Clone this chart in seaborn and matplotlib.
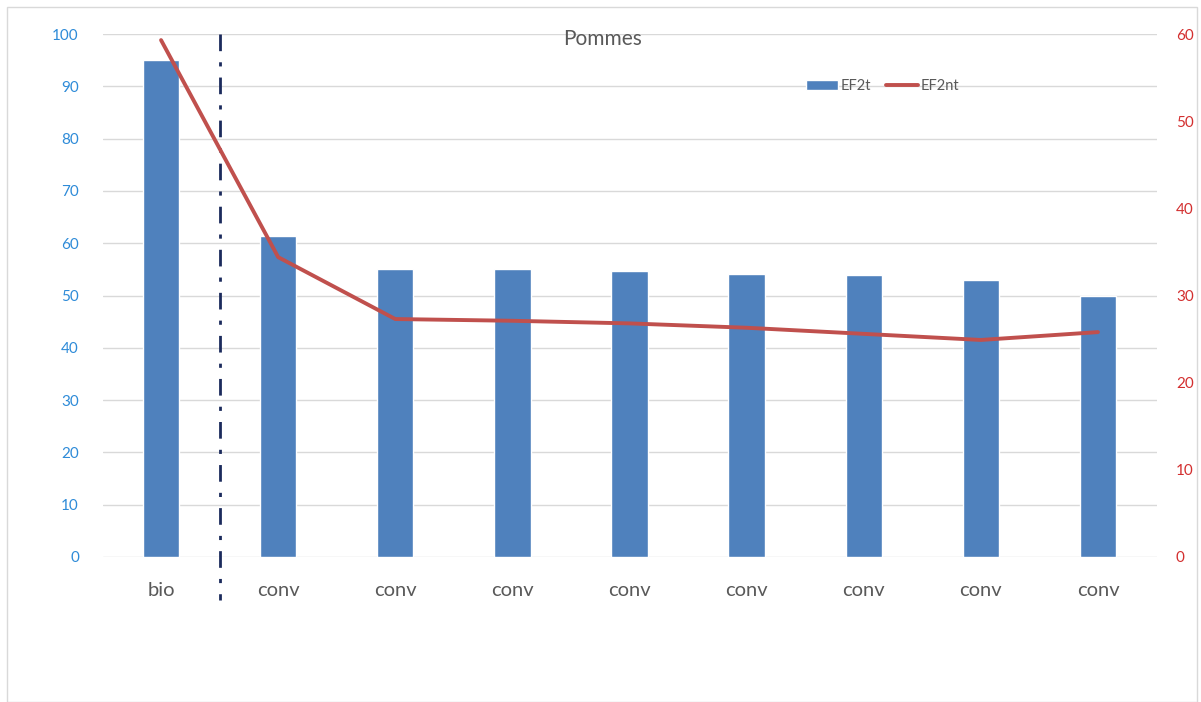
import matplotlib
matplotlib.use("Agg")
import matplotlib.pyplot as plt
import matplotlib.transforms as mtransforms
from matplotlib.patches import Rectangle
import numpy as np
import pandas as pd
import seaborn as sns

# data
categories = ["bio", "conv", "conv", "conv", "conv", "conv", "conv", "conv", "conv"]
ef2t = [95, 61.4, 55.1, 55.1, 54.7, 54.1, 53.9, 53.0, 49.9]
ef2nt = [59.3, 34.4, 27.3, 27.1, 26.8, 26.3, 25.6, 24.9, 25.8]
left_ticks = list(range(0, 101, 10))
right_ticks = list(range(0, 61, 10))

sns.set_theme(style="white")
plt.rcParams["font.family"] = ["Lato", "DejaVu Sans"]

pos = np.arange(len(categories))
df = pd.DataFrame({"pos": pos, "EF2t": ef2t, "EF2nt": ef2nt})

fig = plt.figure(figsize=(12.01, 7.02), dpi=100)
ax = fig.add_axes([102.5 / 1201, 145 / 702, 1054 / 1201, 523 / 702])

# light frame around the chart like the excel export
fig.patches.append(Rectangle((7 / 1201, 0), 1190 / 1201, 695 / 702, transform=fig.transFigure,
                             fill=False, edgecolor="#D9D9D9", linewidth=1))

sns.barplot(data=df, x="pos", y="EF2t", color="#4F81BD", width=0.31, saturation=1,
            ax=ax, label="EF2t")
if ax.get_legend() is not None:
    ax.get_legend().remove()
ax.set_xlim(-0.5, len(categories) - 0.5)
ax.set_ylim(0, 100)
ax.set_yticks(left_ticks)
ax.set_xticks(pos)
ax.set_xticklabels(categories, fontsize=14.5, color="#595959")
ax.tick_params(axis="y", colors="#2E8BD8", labelsize=11, length=0, pad=17)
ax.tick_params(axis="x", length=0, pad=18)
ax.set_xlabel("")
ax.set_ylabel("")
ax.yaxis.grid(True, color="#D9D9D9", linewidth=1)
ax.set_axisbelow(True)
for s in ax.spines.values():
    s.set_visible(False)

ax2 = ax.twinx()
sns.lineplot(data=df, x="pos", y="EF2nt", color="#C0504D", linewidth=2.8, ax=ax2,
             label="EF2nt", legend=False)
ax2.set_ylim(0, 60)
ax2.set_yticks(right_ticks)
ax2.tick_params(axis="y", colors="#D32F2F", labelsize=11, length=0, pad=14)
ax2.set_ylabel("")
for s in ax2.spines.values():
    s.set_visible(False)

# separator between bio and conv
trans = mtransforms.blended_transform_factory(ax.transData, ax.transAxes)
ax.plot([0.5, 0.5], [1.0, -0.082], transform=trans, color="#1B2A5C", linewidth=2,
        linestyle=(0, (6, 4, 1.5, 4)), clip_on=False, zorder=5)

fig.text(603 / 1201, 1 - 39 / 702, "Pommes", ha="center", va="center", fontsize=15,
         color="#595959")

h1, l1 = ax.get_legend_handles_labels()
h2, l2 = ax2.get_legend_handles_labels()
ax2.legend(h1 + h2, l1 + l2, loc="center", bbox_to_anchor=(0.74, 0.90), ncol=2,
           frameon=False, fontsize=10.5, labelcolor="#595959", handlelength=2.2,
           handletextpad=0.2, columnspacing=1.0)

fig.savefig("out.png", dpi=100)
